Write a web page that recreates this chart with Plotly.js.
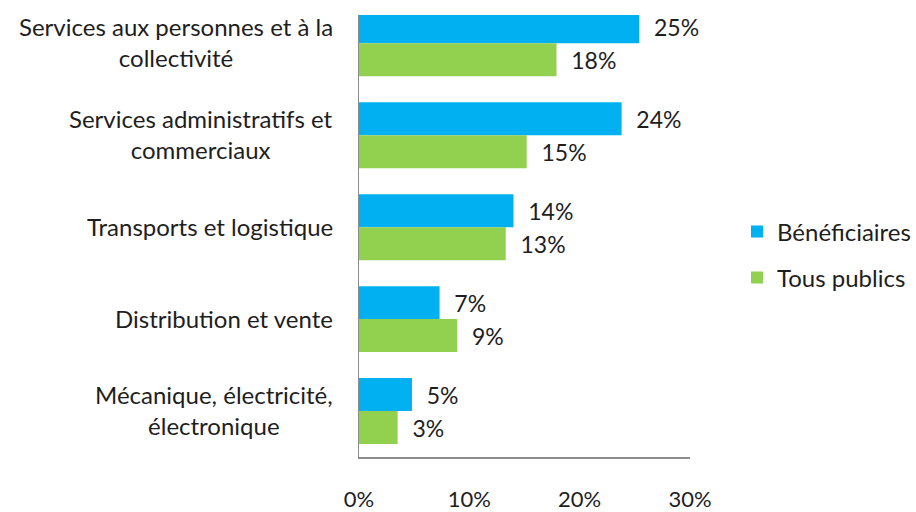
<!DOCTYPE html>
<html>
<head>
<meta charset="utf-8">
<script src="https://cdn.plot.ly/plotly-3.0.1.min.js"></script>
<style>html,body{margin:0;padding:0;background:#fff;}#chart{width:916px;height:512px;}</style>
</head>
<body>
<div id="chart"></div>
<script>
var categories = [
  "Services aux personnes et à la<br>collectivité",
  "Services administratifs et<br>commerciaux",
  "Transports et logistique",
  "Distribution et vente",
  "Mécanique, électricité,<br>électronique"
];
var seriesNames = ["Bénéficiaires", "Tous publics"];
var beneficiaires = [25.4, 23.8, 14.0, 7.3, 4.8];
var tousPublics = [17.9, 15.2, 13.3, 8.9, 3.5];
var beneficiairesLabels = ["25%", "24%", "14%", "7%", "5%"];
var tousPublicsLabels = ["18%", "15%", "13%", "9%", "3%"];
var xTickVals = [0, 10, 20, 30];
var xTickText = ["0%", "10%", "20%", "30%"];

var FONT = "Lato, 'Open Sans', sans-serif";
var TXT = "#1e1e1e";
var pad = "\u00a0\u00a0";

var traces = [
  {
    type: "bar", orientation: "h", name: seriesNames[0],
    y: categories, x: beneficiaires,
    text: beneficiairesLabels.map(function(s){return pad + s;}),
    textposition: "outside", cliponaxis: false,
    textfont: {family: FONT, size: 23, color: TXT},
    marker: {color: "#00B0F0"}, legend: "legend"
  },
  {
    type: "bar", orientation: "h", name: seriesNames[1],
    y: categories, x: tousPublics,
    text: tousPublicsLabels.map(function(s){return pad + s;}),
    textposition: "outside", cliponaxis: false,
    textfont: {family: FONT, size: 23, color: TXT},
    marker: {color: "#92D050"}, legend: "legend2"
  }
];

var annotations = categories.map(function(c){
  return {
    xref: "paper", yref: "y", x: 0, y: c, xanchor: "right", yanchor: "middle",
    xshift: -24, yshift: 1, text: c, showarrow: false, align: "center",
    font: {family: FONT, size: 24, color: TXT}
  };
});

var layout = {
  width: 916, height: 512,
  margin: {l: 359, r: 226, t: 15, b: 55, autoexpand: false},
  paper_bgcolor: "#fff", plot_bgcolor: "#fff",
  barmode: "group", bargap: 0.283, bargroupgap: 0,
  font: {family: FONT, size: 20, color: TXT},
  xaxis: {
    range: [0, 30], tickvals: xTickVals, ticktext: xTickText, automargin: false,
    showgrid: false, zeroline: false, showline: true, linecolor: "#8c8c8c", linewidth: 1.5,
    ticks: "", ticklabelstandoff: 22,
    tickfont: {family: FONT, size: 22, color: TXT}
  },
  yaxis: {
    range: [4.5, -0.308], autorange: false, automargin: false, showticklabels: false, showgrid: false, zeroline: false,
    showline: true, linecolor: "#8c8c8c", linewidth: 1.5, ticks: ""
  },
  shapes: [{
    type: "rect", xref: "paper", yref: "paper", x0: -0.01, x1: 1.0, y0: 1.0, y1: 1.06,
    fillcolor: "#ffffff", line: {width: 0}, layer: "above"
  }],
  showlegend: true,
  legend: {x: 0.8046, y: 0.547, xanchor: "left", yanchor: "middle", xref: "container", yref: "container",
    font: {family: FONT, size: 24, color: TXT}, bgcolor: "rgba(0,0,0,0)"},
  legend2: {x: 0.8046, y: 0.457, xanchor: "left", yanchor: "middle", xref: "container", yref: "container",
    font: {family: FONT, size: 24, color: TXT}, bgcolor: "rgba(0,0,0,0)"},
  annotations: annotations
};

Plotly.newPlot("chart", traces, layout, {displayModeBar: false, staticPlot: true});
</script>
</body>
</html>
